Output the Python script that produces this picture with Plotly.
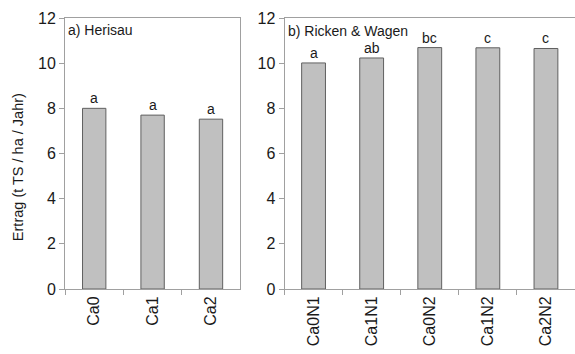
import plotly.graph_objects as go

# Yield per treatment, site a) Herisau
cats_a = ["Ca0", "Ca1", "Ca2"]
vals_a = [8.0, 7.70, 7.52]
sig_a = ["a", "a", "a"]

# Yield per treatment, site b) Ricken & Wagen
cats_b = ["Ca0N1", "Ca1N1", "Ca0N2", "Ca1N2", "Ca2N2"]
vals_b = [10.01, 10.23, 10.69, 10.68, 10.65]
sig_b = ["a", "ab", "bc", "c", "c"]

y_ticks = [0, 2, 4, 6, 8, 10, 12]

FONT = "Liberation Sans, Arial, sans-serif"
BAR_FILL = "#c0c0c0"
BAR_EDGE = "#606060"
AXIS = "#a0a0a0"
TEXT = "#1a1a1a"

fig = go.Figure()
fig.add_trace(go.Bar(x=cats_a, y=vals_a, xaxis="x", yaxis="y", width=0.4,
                     marker=dict(color=BAR_FILL, line=dict(color=BAR_EDGE, width=1)),
                     showlegend=False, hoverinfo="x+y"))
fig.add_trace(go.Bar(x=cats_b, y=vals_b, xaxis="x2", yaxis="y2", width=0.41,
                     marker=dict(color=BAR_FILL, line=dict(color=BAR_EDGE, width=1)),
                     showlegend=False, hoverinfo="x+y"))

annotations = []
for c, v, s in zip(cats_a, vals_a, sig_a):
    annotations.append(dict(x=c, y=v, xref="x", yref="y", text=s, showarrow=False,
                            yanchor="bottom", yshift=0, font=dict(size=14, color=TEXT)))
for c, v, s in zip(cats_b, vals_b, sig_b):
    annotations.append(dict(x=c, y=v, xref="x2", yref="y2", text=s, showarrow=False,
                            yanchor="bottom", yshift=0, font=dict(size=14, color=TEXT)))

annotations.append(dict(x=0.0, y=1.0, xref="x domain", yref="y domain", text="a) Herisau",
                        showarrow=False, xanchor="left", yanchor="top", xshift=1, yshift=-2,
                        font=dict(size=14, color=TEXT)))
annotations.append(dict(x=0.0, y=1.0, xref="x2 domain", yref="y2 domain", text="b) Ricken & Wagen",
                        showarrow=False, xanchor="left", yanchor="top", xshift=1, yshift=-3,
                        font=dict(size=14, color=TEXT)))

# Shared y-axis title, placed left of the first panel
annotations.append(dict(x=-0.092, y=0.45, xref="paper", yref="paper",
                        text="Ertrag (t TS / ha / Jahr)", showarrow=False, textangle=-90,
                        xanchor="center", yanchor="middle",
                        font=dict(size=14.5, color=TEXT, family=FONT)))

xcommon = dict(type="category", showline=True, linecolor=AXIS, linewidth=1,
               ticks="outside", tickson="boundaries", ticklen=5, tickcolor=AXIS,
               tickangle=-90, tickfont=dict(size=16, color=TEXT, family=FONT),
               showgrid=False, zeroline=False, mirror=True, fixedrange=True)
ycommon = dict(range=[0, 12], tickvals=y_ticks, showline=True, linecolor=AXIS, linewidth=1,
               ticks="outside", ticklen=5, tickcolor=AXIS,
               tickfont=dict(size=16, color=TEXT, family=FONT),
               showgrid=False, zeroline=False, fixedrange=True)

fig.update_layout(
    width=575, height=354,
    margin=dict(l=65, r=0, t=18, b=65),
    paper_bgcolor="white", plot_bgcolor="white",
    font=dict(family=FONT, color=TEXT),
    xaxis=dict(domain=[0, 0.3435], anchor="y", **xcommon),
    yaxis=dict(anchor="x", mirror=True, **ycommon),
    xaxis2=dict(domain=[0.4304, 1.0], anchor="y2", **xcommon),
    yaxis2=dict(anchor="x2", mirror=False, **ycommon),
    annotations=annotations,
)

fig.write_html("out.html")
